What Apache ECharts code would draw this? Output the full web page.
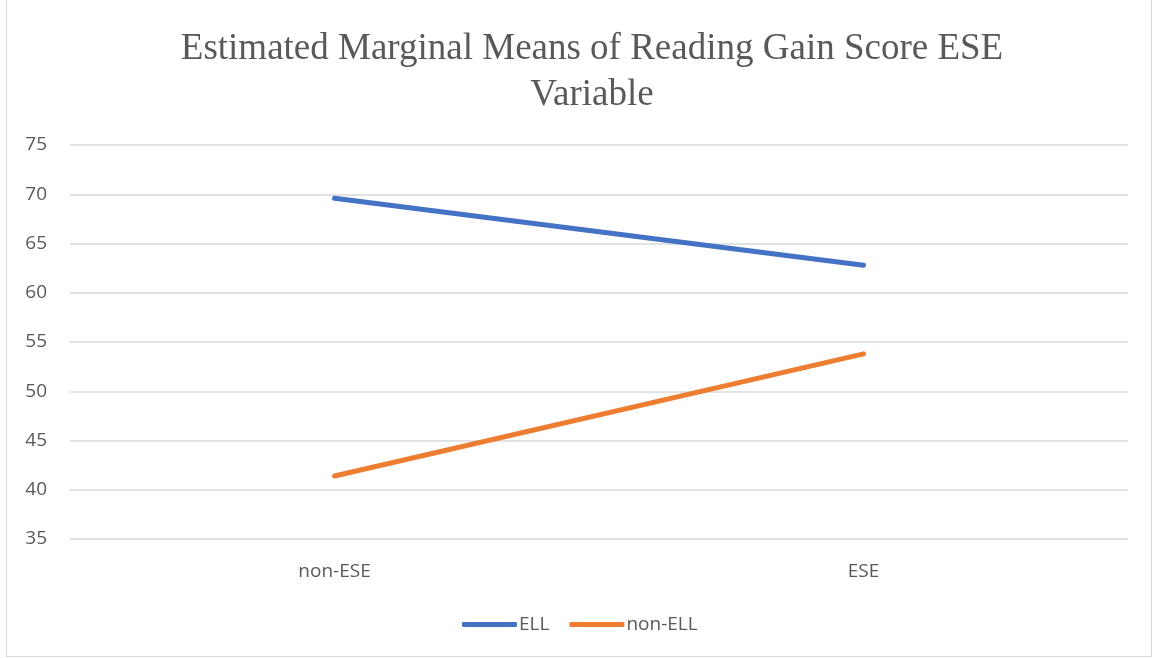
<!DOCTYPE html>
<html>
<head>
<meta charset="utf-8">
<script src="https://cdn.jsdelivr.net/npm/echarts@6/dist/echarts.min.js"></script>
<style>
  html, body { margin: 0; padding: 0; background: #fff; }
  #chart { width: 1152px; height: 658px; }
  #frame { position: absolute; left: 6px; top: 0; width: 1144px; height: 656px; border: 1px solid #d9d9d9; border-top: none; pointer-events: none; }
</style>
</head>
<body>
<div id="chart"></div>
<div id="frame"></div>
<script>
const categories = ['non-ESE', 'ESE'];
const ellValues = [69.6, 62.8];
const nonEllValues = [41.4, 53.8];
const yTicks = { min: 35, max: 75, interval: 5 };

const chart = echarts.init(document.getElementById('chart'), null, { renderer: 'canvas' });
const labelFont = { fontFamily: 'Open Sans', fontSize: 19, color: '#595959' };

chart.setOption({
  animation: false,
  title: {
    text: 'Estimated Marginal Means of Reading Gain Score ESE\nVariable',
    left: 587,
    textAlign: 'center',
    top: 21,
    textStyle: { fontFamily: 'Liberation Serif', fontSize: 37, fontWeight: 'normal', color: '#595959', lineHeight: 46 }
  },
  legend: {
    bottom: 19,
    left: 457,
    itemWidth: 55,
    itemHeight: 5,
    itemGap: 20,
    textStyle: Object.assign({}, labelFont, { padding: [0, 0, 0, -3] }),
    icon: 'roundRect',
    data: ['ELL', 'non-ELL']
  },
  grid: { left: 70, right: 24, top: 145, bottom: 119 },
  xAxis: {
    type: 'category',
    data: categories,
    boundaryGap: true,
    axisLine: { show: false },
    axisTick: { show: false },
    axisLabel: Object.assign({ margin: 23 }, labelFont)
  },
  yAxis: {
    type: 'value',
    min: yTicks.min,
    max: yTicks.max,
    interval: yTicks.interval,
    axisLine: { show: false },
    axisTick: { show: false },
    axisLabel: Object.assign({ margin: 23 }, labelFont),
    splitLine: { lineStyle: { color: '#d9d9d9', width: 1.5 } }
  },
  series: [
    {
      name: 'ELL', type: 'line', data: ellValues,
      symbol: 'none',
      lineStyle: { color: '#4472C4', width: 5, cap: 'round' },
      itemStyle: { color: '#4472C4' }
    },
    {
      name: 'non-ELL', type: 'line', data: nonEllValues,
      symbol: 'none',
      lineStyle: { color: '#ED7D31', width: 5, cap: 'round' },
      itemStyle: { color: '#ED7D31' }
    }
  ]
});
</script>
</body>
</html>
